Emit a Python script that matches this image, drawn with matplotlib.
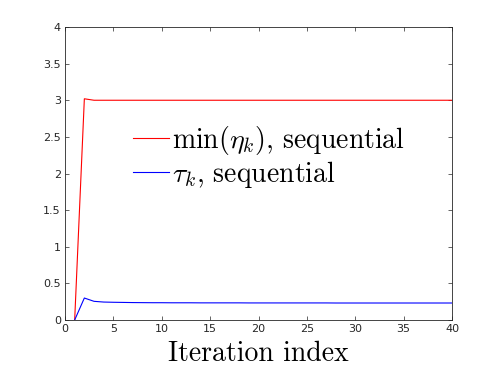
import matplotlib
matplotlib.use("Agg")
import matplotlib.pyplot as plt
import numpy as np

# -----------------------------
# DATA
# -----------------------------
iterations = list(range(1, 41))

min_eta = [0.0, 3.02, 3.0, 3.0, 3.0, 3.0, 3.0, 3.0, 3.0, 3.0,
           3.0, 3.0, 3.0, 3.0, 3.0, 3.0, 3.0, 3.0, 3.0, 3.0,
           3.0, 3.0, 3.0, 3.0, 3.0, 3.0, 3.0, 3.0, 3.0, 3.0,
           3.0, 3.0, 3.0, 3.0, 3.0, 3.0, 3.0, 3.0, 3.0, 3.0]

tau = [0.0, 0.30, 0.255, 0.245, 0.242, 0.240, 0.238, 0.237, 0.236, 0.236,
       0.235, 0.235, 0.235, 0.234, 0.234, 0.234, 0.234, 0.234, 0.233, 0.233,
       0.233, 0.233, 0.233, 0.233, 0.233, 0.233, 0.233, 0.232, 0.232, 0.232,
       0.232, 0.232, 0.232, 0.232, 0.232, 0.232, 0.232, 0.232, 0.232, 0.232]

labels = [r"$\min(\eta_k)$, sequential", r"$\tau_k$, sequential"]
x_ticks = [0, 5, 10, 15, 20, 25, 30, 35, 40]
y_ticks = [0, 0.5, 1, 1.5, 2, 2.5, 3, 3.5, 4]

# -----------------------------
# PLOT
# -----------------------------
plt.rcParams["mathtext.fontset"] = "cm"

fig = plt.figure(figsize=(4.98, 3.74), dpi=100)
ax = fig.add_axes([65 / 498, 1 - 320 / 374, (452 - 65) / 498, (320 - 27) / 374])

ax.plot(iterations, min_eta, color="red", lw=0.8, label=labels[0])
ax.plot(iterations, tau, color="blue", lw=0.8, label=labels[1])

ax.set_xlim(0, 40)
ax.set_ylim(0, 4)
ax.set_xticks(x_ticks)
ax.set_yticks(y_ticks)
ax.set_xticklabels([str(t) for t in x_ticks])
ax.set_yticklabels(["0", "0.5", "1", "1.5", "2", "2.5", "3", "3.5", "4"])
ax.tick_params(direction="in", top=True, right=True, labelsize=8,
               length=3, width=0.5, colors="#262626", pad=3)

for s in ax.spines.values():
    s.set_color("#262626")
    s.set_linewidth(0.6)

ax.set_xlabel("Iteration index", fontsize=20, family="cmr10", labelpad=5)

leg = ax.legend(loc="upper left", bbox_to_anchor=(0.175, 0.67), frameon=False,
                prop={"family": "cmr10", "size": 20}, handlelength=1.3,
                handletextpad=0.1, labelspacing=0.08, borderaxespad=0,
                borderpad=0)

fig.savefig("out.png", dpi=100)
